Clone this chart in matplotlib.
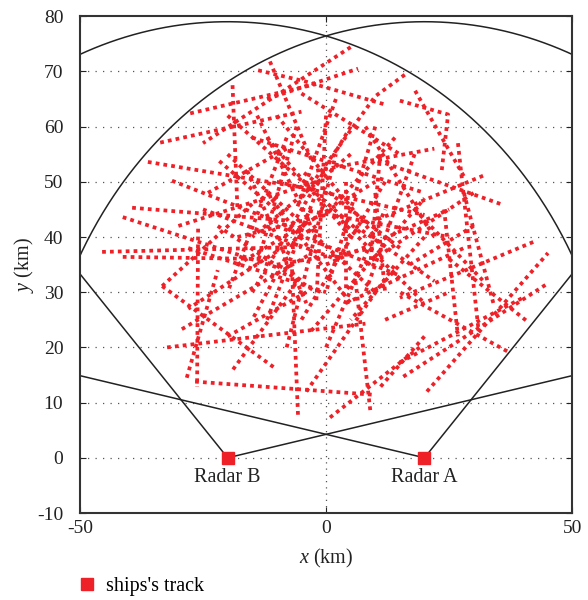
import numpy as np
import matplotlib
matplotlib.use("Agg")
import matplotlib.pyplot as plt
from matplotlib.lines import Line2D

plt.rcParams['font.family'] = ['Liberation Serif', 'DejaVu Serif']
plt.rcParams['axes.unicode_minus'] = False
plt.rcParams['mathtext.fontset'] = 'custom'
plt.rcParams['mathtext.it'] = 'Liberation Serif:italic'
plt.rcParams['mathtext.rm'] = 'Liberation Serif'

# radar positions (km) and coverage
radar_names = ["Radar A", "Radar B"]
radar_x = [20, -20]
radar_y = [0, 0]
radar_range = 79.0
sector_deg = [(48, 168), (12, 132)]   # A, B

# ship tracks (km)
tracks_x = [
    [5, -25], [-11.4, -3], [-13.8, -4.3, 12], [-12, 6.5], [-27.6, -2],
    [-33.7, -5], [-36.2, -5], [-31.3, -5], [-39.4, -8], [-41.3, -10],
    [-45.5, -5], [-41.3, -12], [-19, -18], [-33.3, -15], [-33.3, -10],
    [-29.3, -3], [-32.3, 8], [-26, -26.2], [-26.6, 10], [-28.3, -22],
    [-18.9, -5], [-5.7, -7], [0.8, 19], [-4, 14], [-3, 20],
    [6, 9], [20, 10.6], [20.5, 45.1], [15.7, 44.9], [15, 40],
    [36.8, 15], [26.8, 31], [42.1, 15], [25, 40.9], [24, 26.8],
    [15, 24.8, 23.5], [18.1, 28], [31.9, 10], [35.4, 10], [16, 10, -5],
    [-20, 10], [-15, 5], [0, -2], [-10, 20], [-25, 5],
    [5, -15], [10, 0], [-8, -20], [12, -5], [-5, 25],
    [2, 20], [15, -5], [-30, -2], [8, 30], [-12, -2],
    [0, 12], [-2, -28], [18, 8], [-10, 10], [4, 28],
    [-18, 0], [28, 34],
    [-20, 8], [-15, 20], [-5, 15], [-12, 5], [-8, 2],
    [10, 12], [11, 9], [-22, -2], [-18, 10], [-10, 15],
    [-3, -15], [5, -12], [0, 25], [-6, -14], [2, -6],
    [14, 0], [20, 5], [-16, -4], [-28, 0], [8, 22],
    [-2, 22], [4, 4], [-10, 10], [17, 30], [18, 32],
    [-24, -8], [-9, -22], [6, 22], [-4, -20], [12, 25],
    [-14, -2],
]
tracks_y = [
    [74.4, 57], [71.8, 54], [70.2, 68.2, 64], [65, 70.5], [62.4, 67.7],
    [57.1, 62.7], [53.6, 49], [50.2, 41], [45.3, 43], [43.6, 34.5],
    [37.3, 38.2], [36.4, 36], [67.5, 45], [31.1, 46], [31.1, 16],
    [23.3, 37], [20, 24.3], [41.5, 12.9], [13.8, 11.4], [14.5, 34],
    [16, 33], [7.8, 36], [7.3, 20], [12, 35], [23, 47],
    [32, 8.5], [22, 12.4], [12, 37.1], [14.7, 31.5], [17.3, 29],
    [19.3, 30], [57, 23], [39.1, 29], [36, 24.7], [45, 22],
    [64.7, 62.2, 52], [66.5, 51], [51.1, 43], [46, 54], [69.4, 65.5, 47],
    [55, 30], [30, 60], [62, 28], [50, 44], [45, 35],
    [55, 40], [60, 30], [58, 30], [50, 25], [45, 40],
    [44, 28], [38, 52], [42, 50], [35, 48], [25, 48],
    [20, 45], [42, 27], [55, 30], [62, 40], [28, 38],
    [40, 44], [48, 28],
    [62, 40], [58, 48], [66, 55], [48, 28], [20, 55],
    [48, 30], [55, 35], [42, 30], [35, 50], [42, 33],
    [45, 25], [40, 58], [35, 45], [60, 35], [65, 45],
    [58, 44], [40, 25], [52, 28], [38, 30], [60, 40],
    [52, 56], [50, 30], [35, 38], [35, 42], [45, 32],
    [48, 56], [44, 54], [42, 32], [30, 22], [25, 30],
    [62, 40],
]

track_color = '#ee2028'
ink = '#222222'

fig = plt.figure(figsize=(5.88, 6.0), dpi=100)
ax = fig.add_axes([0.136, 0.145, 0.837, 0.828])

# coverage circles and sector edges
for rx, ry, (a0, a1) in zip(radar_x, radar_y, sector_deg):
    th = np.radians(np.linspace(a0, a1, 400))
    ax.plot(rx + radar_range * np.cos(th), ry + radar_range * np.sin(th),
            color=ink, lw=1.1, zorder=2)
    for a in (a0, a1):
        ax.plot([rx, rx + 200 * np.cos(np.radians(a))],
                [ry, ry + 200 * np.sin(np.radians(a))],
                color=ink, lw=1.1, zorder=2)

for tx, ty in zip(tracks_x, tracks_y):
    ax.plot(tx, ty, color=track_color, lw=2.7, linestyle=(0, (1, 1.1)),
            dash_capstyle='butt', zorder=3)

ax.plot(radar_x, radar_y, 's', color=track_color, ms=9, zorder=4)
for name, rx, ry in zip(radar_names, radar_x, radar_y):
    ax.text(rx, ry - 3.6, name, ha='center', va='center', fontsize=14.5,
            color=ink)

# dotted grid: horizontal every 10 km, vertical at x = 0
for gy in range(0, 80, 10):
    ax.axhline(gy, color='#555555', lw=0.9, linestyle=(0, (1, 5)), zorder=1)
ax.axvline(0, color='#555555', lw=0.9, linestyle=(0, (1, 4)), zorder=1)

ax.set_xlim(-50, 50)
ax.set_ylim(-10, 80)
ax.set_xticks([-50, 0, 50])
ax.set_yticks(range(-10, 81, 10))
ax.tick_params(direction='in', length=4, labelsize=14, colors=ink,
               top=True, right=True)
ax.tick_params(axis='y', pad=12)
ax.tick_params(axis='x', pad=5)
for s in ax.spines.values():
    s.set_color('#333333')
    s.set_linewidth(1.5)

ax.set_xlabel('$\\it{x}$ (km)', fontsize=14.5, color=ink, labelpad=7)
ax.set_ylabel('$\\it{y}$ (km)', fontsize=14.5, color=ink, labelpad=1)

proxy = Line2D([], [], marker='s', color=track_color, linestyle='none', ms=9)
fig.legend([proxy], ["ships's track"], loc='center left',
           bbox_to_anchor=(0.096, 0.022), frameon=False, fontsize=14.5,
           handletextpad=0.35, handlelength=1.2)

fig.savefig('out.png', dpi=100)
